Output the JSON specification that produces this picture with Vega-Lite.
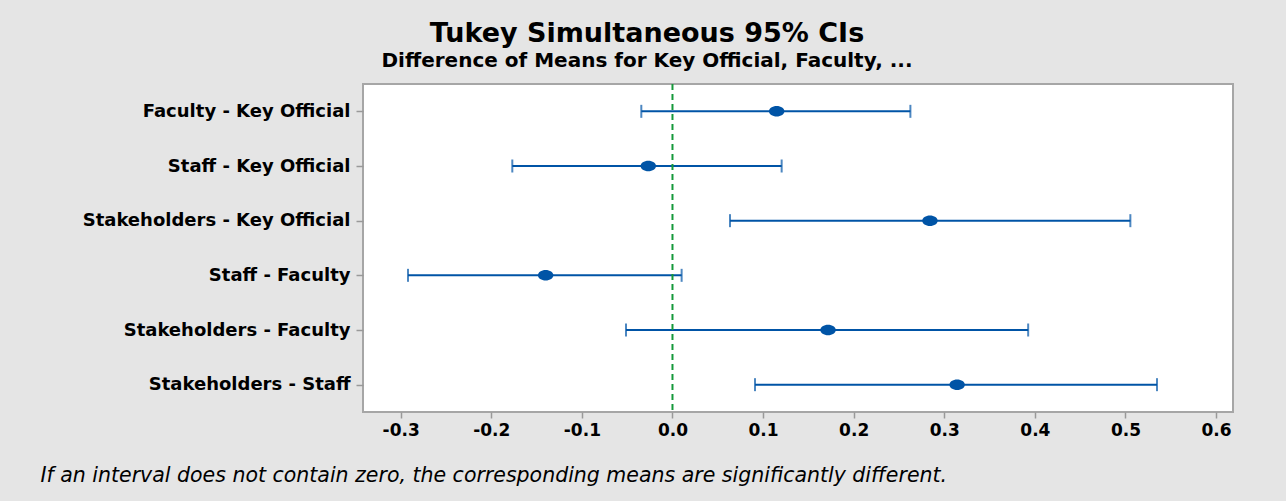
{
  "$schema": "https://vega.github.io/schema/vega-lite/v6.json",
  "width": 870,
  "height": 328,
  "autosize": {"type": "none"},
  "padding": {"left": 363, "top": 84, "right": 53, "bottom": 89},
  "background": "#e5e5e5",
  "config": {
    "view": {"fill": "white", "stroke": "#a6a6a6", "strokeWidth": 2},
    "font": "DejaVu Sans"
  },
  "title": {
    "text": "Tukey Simultaneous 95% CIs",
    "subtitle": "Difference of Means for Key Official, Faculty, ...",
    "frame": "group",
    "anchor": "middle",
    "dx": -151,
    "offset": 11,
    "font": "DejaVu Sans",
    "fontSize": 27,
    "fontWeight": "bold",
    "color": "black",
    "subtitleFont": "DejaVu Sans",
    "subtitleFontSize": 20,
    "subtitleFontWeight": "bold",
    "subtitleColor": "black",
    "subtitlePadding": 3
  },
  "data": {
    "values": [
      {"comparison": "Faculty - Key Official", "lower": -0.0344, "diff": 0.115, "upper": 0.2626},
      {"comparison": "Staff - Key Official", "lower": -0.1768, "diff": -0.0267, "upper": 0.1205},
      {"comparison": "Stakeholders - Key Official", "lower": 0.0635, "diff": 0.2842, "upper": 0.5054},
      {"comparison": "Staff - Faculty", "lower": -0.2919, "diff": -0.14, "upper": 0.0101},
      {"comparison": "Stakeholders - Faculty", "lower": -0.0513, "diff": 0.1717, "upper": 0.3926},
      {"comparison": "Stakeholders - Staff", "lower": 0.0911, "diff": 0.3142, "upper": 0.5348}
    ]
  },
  "encoding": {
    "y": {
      "field": "comparison",
      "type": "nominal",
      "sort": null,
      "scale": {"type": "point", "padding": 0.5},
      "axis": {
        "title": null,
        "domain": false,
        "labelFont": "DejaVu Sans",
        "labelFontSize": 18,
        "labelFontWeight": "bold",
        "labelColor": "black",
        "tickColor": "#999999",
        "tickSize": 7,
        "tickWidth": 1.5,
        "labelPadding": 6,
        "labelLimit": 400
      }
    }
  },
  "layer": [
    {
      "mark": {"type": "rule", "color": "#0054a6", "strokeWidth": 2},
      "encoding": {
        "x": {
          "field": "lower",
          "type": "quantitative",
          "scale": {"domain": [-0.3416, 0.6187], "nice": false, "zero": false},
          "axis": {
            "title": "If an interval does not contain zero, the corresponding means are significantly different.",
            "titleFont": "DejaVu Sans",
            "titleFontStyle": "italic",
            "titleFontWeight": "normal",
            "titleFontSize": 20.5,
            "titleColor": "black",
            "titleAlign": "left",
            "titleBaseline": "alphabetic",
            "titleX": -323,
            "titleY": 69,
            "values": [-0.3, -0.2, -0.1, 0, 0.1, 0.2, 0.3, 0.4, 0.5, 0.6],
            "labelExpr": "replace(format(datum.value, '.1f'), '\u2212', '-')",
            "labelFont": "DejaVu Sans",
            "labelFontSize": 17,
            "labelFontWeight": "bold",
            "labelColor": "black",
            "labelPadding": 4,
            "domain": false,
            "grid": false,
            "tickColor": "#999999",
            "tickSize": 6,
            "tickWidth": 1.5
          }
        },
        "x2": {"field": "upper"}
      }
    },
    {
      "mark": {"type": "tick", "orient": "vertical", "color": "#0054a6", "size": 13, "thickness": 2},
      "encoding": {"x": {"field": "lower", "type": "quantitative"}}
    },
    {
      "mark": {"type": "tick", "orient": "vertical", "color": "#0054a6", "size": 13, "thickness": 2},
      "encoding": {"x": {"field": "upper", "type": "quantitative"}}
    },
    {
      "mark": {
        "type": "point",
        "filled": true,
        "opacity": 1,
        "color": "#0054a6",
        "shape": "M-1,0A1,0.68 0 1,0 1,0A1,0.68 0 1,0 -1,0Z",
        "size": 240
      },
      "encoding": {"x": {"field": "diff", "type": "quantitative"}}
    },
    {
      "data": {"values": [{"zero": 0}]},
      "mark": {"type": "rule", "color": "#15993a", "strokeWidth": 2, "strokeDash": [6, 4]},
      "encoding": {"x": {"field": "zero", "type": "quantitative"}, "y": null}
    }
  ]
}
